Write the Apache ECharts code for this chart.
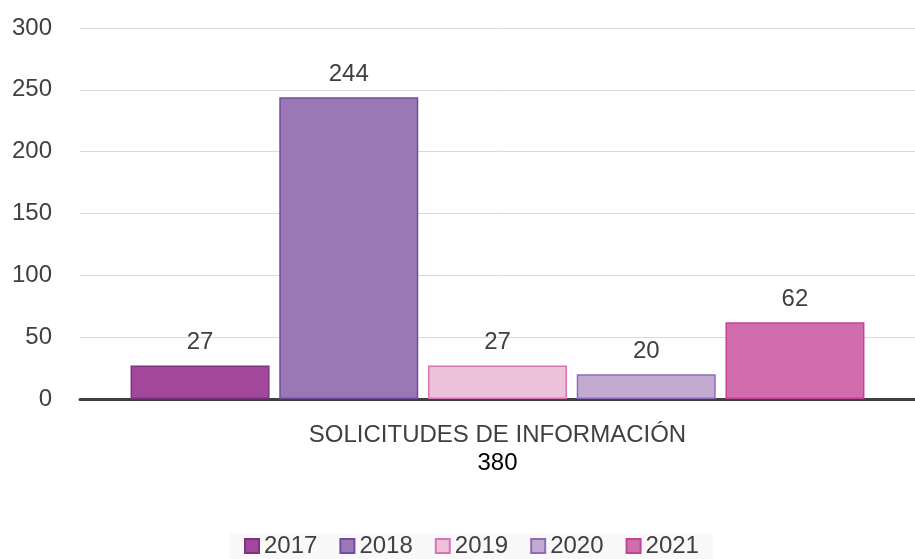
<!DOCTYPE html>
<html>
<head>
<meta charset="utf-8">
<script src="https://cdn.jsdelivr.net/npm/echarts@6/dist/echarts.min.js"></script>
<style>
  html, body { margin: 0; padding: 0; background: #fff; }
  #chart { width: 915px; height: 559px; }
</style>
</head>
<body>
<div id="chart"></div>
<script>
// datos del gráfico
const categoria = ["SOLICITUDES DE INFORMACIÓN"];
const anios = ["2017", "2018", "2019", "2020", "2021"];
const valores = [27, 244, 27, 20, 62];
const yTicks = { min: 0, max: 300, interval: 50 };

// colores de relleno y borde por año
const rellenos = ["#a2479b", "#9b77b5", "#eec1db", "#c3aad0", "#d16dad"];
const bordes = ["#7b3480", "#6f4ea0", "#d874b4", "#8e6bbd", "#c2449a"];

const total = valores.reduce((a, b) => a + b, 0);
const fuente = "Liberation Sans, Arial, sans-serif";

let series = anios.map((anio, i) => ({
  name: anio,
  type: "bar",
  data: [valores[i]],
  barWidth: 139,
  barGap: "7%",
  itemStyle: {
    color: rellenos[i],
    borderColor: bordes[i],
    borderWidth: 1.5,
  },
  label: {
    show: true,
    position: "top",
    distance: 11,
    color: "#404040",
    fontSize: 24,
    fontFamily: fuente,
  },
}));

let option = {
  animation: false,
  backgroundColor: "#fff",
  textStyle: { fontFamily: fuente },
  grid: {
    left: 80,
    right: 0,
    top: 28,
    bottom: 160,
  },
  legend: {
    data: anios,
    left: 230,
    top: 533,
    padding: [1, 14, 1, 14],
    backgroundColor: "#f9f9f9",
    itemWidth: 14,
    itemHeight: 14,
    itemGap: 22,
    icon: "rect",
    textStyle: {
      color: "#404040",
      fontSize: 24,
      fontFamily: fuente,
    },
  },
  xAxis: {
    type: "category",
    data: categoria,
    axisTick: { show: false },
    axisLine: {
      lineStyle: { color: "#404040", width: 3 },
    },
    axisLabel: {
      margin: 22,
      formatter: function (v) {
        return "{a|" + v + "}\n{b|" + total + "}";
      },
      rich: {
        a: { color: "#404040", fontSize: 24, lineHeight: 28, fontFamily: fuente },
        b: { color: "#000", fontSize: 24, lineHeight: 28, fontFamily: fuente },
      },
    },
  },
  yAxis: {
    type: "value",
    min: yTicks.min,
    max: yTicks.max,
    interval: yTicks.interval,
    axisLine: { show: false },
    axisTick: { show: false },
    splitLine: {
      lineStyle: { color: "#d9d9d9", width: 1 },
    },
    axisLabel: {
      margin: 28,
      color: "#404040",
      fontSize: 24,
      fontFamily: fuente,
    },
  },
  series: series,
};

let chart = echarts.init(document.getElementById("chart"));
chart.setOption(option);
</script>
</body>
</html>
